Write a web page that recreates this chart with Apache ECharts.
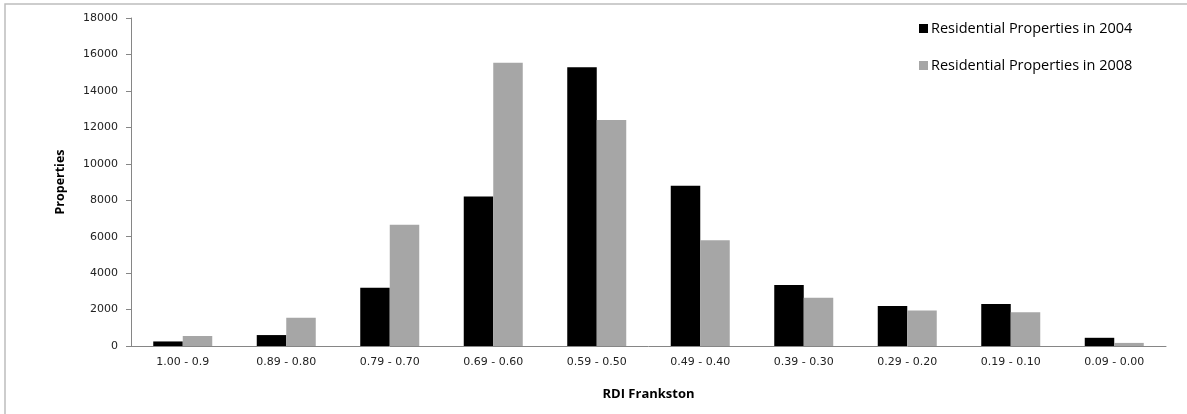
<!DOCTYPE html>
<html>
<head>
<meta charset="utf-8">
<script src="https://cdn.jsdelivr.net/npm/echarts@6/dist/echarts.min.js"></script>
<style>
  html, body { margin: 0; padding: 0; background: #fff; }
  #chart { width: 1187px; height: 414px; }
</style>
</head>
<body>
<div id="chart"></div>
<script>
// RDI bands for Frankston, high to low
const categories = ['1.00 - 0.9', '0.89 - 0.80', '0.79 - 0.70', '0.69 - 0.60', '0.59 - 0.50',
                    '0.49 - 0.40', '0.39 - 0.30', '0.29 - 0.20', '0.19 - 0.10', '0.09 - 0.00'];
// Residential property counts per band
const props2004 = [250, 600, 3200, 8200, 15300, 8800, 3350, 2200, 2300, 450];
const props2008 = [550, 1550, 6650, 15550, 12400, 5800, 2650, 1950, 1850, 170];
const yTicks = { min: 0, max: 18000, interval: 2000 };
const seriesNames = ['Residential Properties in 2004', 'Residential Properties in 2008'];

const chart = echarts.init(document.getElementById('chart'));
const axisGray = '#868686';
const labelFont = 'DejaVu Sans';

chart.setOption({
  animation: false,
  backgroundColor: '#fff',
  graphic: [{
    type: 'rect',
    shape: { x: 5, y: 4, width: 1300, height: 500 },
    style: { fill: 'none', stroke: '#bdbdbd', lineWidth: 1.5 },
    silent: true
  }],
  legend: {
    orient: 'vertical',
    left: 914,
    top: 16,
    itemWidth: 9,
    itemHeight: 9,
    itemGap: 22,
    icon: 'rect',
    textStyle: { fontFamily: 'Open Sans', fontSize: 14.5, color: '#000', padding: [0, 0, 0, -2] },
    data: seriesNames
  },
  grid: { left: 131, right: 21, top: 18, bottom: 68, containLabel: false },
  xAxis: {
    type: 'category',
    data: categories,
    name: 'RDI Frankston',
    nameLocation: 'middle',
    nameGap: 42,
    nameTextStyle: { fontFamily: 'Open Sans', fontWeight: 'bold', fontSize: 13, color: '#000' },
    axisLine: { lineStyle: { color: axisGray, width: 1 } },
    axisTick: { show: false },
    axisLabel: { fontFamily: labelFont, fontSize: 11, color: '#222', margin: 11 }
  },
  yAxis: {
    type: 'value',
    min: yTicks.min,
    max: yTicks.max,
    interval: yTicks.interval,
    name: 'Properties',
    nameLocation: 'middle',
    nameGap: 64,
    nameRotate: 90,
    nameTextStyle: { fontFamily: 'Open Sans', fontWeight: 'bold', fontSize: 12.5, color: '#000' },
    axisLine: { show: true, lineStyle: { color: axisGray, width: 1 } },
    axisTick: { show: true, inside: false, length: 5, lineStyle: { color: axisGray } },
    axisLabel: { fontFamily: labelFont, fontSize: 11, color: '#222', margin: 13,
                 formatter: v => String(v) },
    splitLine: { show: false }
  },
  series: [
    {
      name: seriesNames[0],
      type: 'bar',
      data: props2004,
      itemStyle: { color: '#000000' },
      barWidth: 29.5,
      barGap: '0%'
    },
    {
      name: seriesNames[1],
      type: 'bar',
      data: props2008,
      itemStyle: { color: '#a6a6a6' },
      barWidth: 29.5,
      barGap: '0%'
    }
  ]
});
</script>
</body>
</html>
